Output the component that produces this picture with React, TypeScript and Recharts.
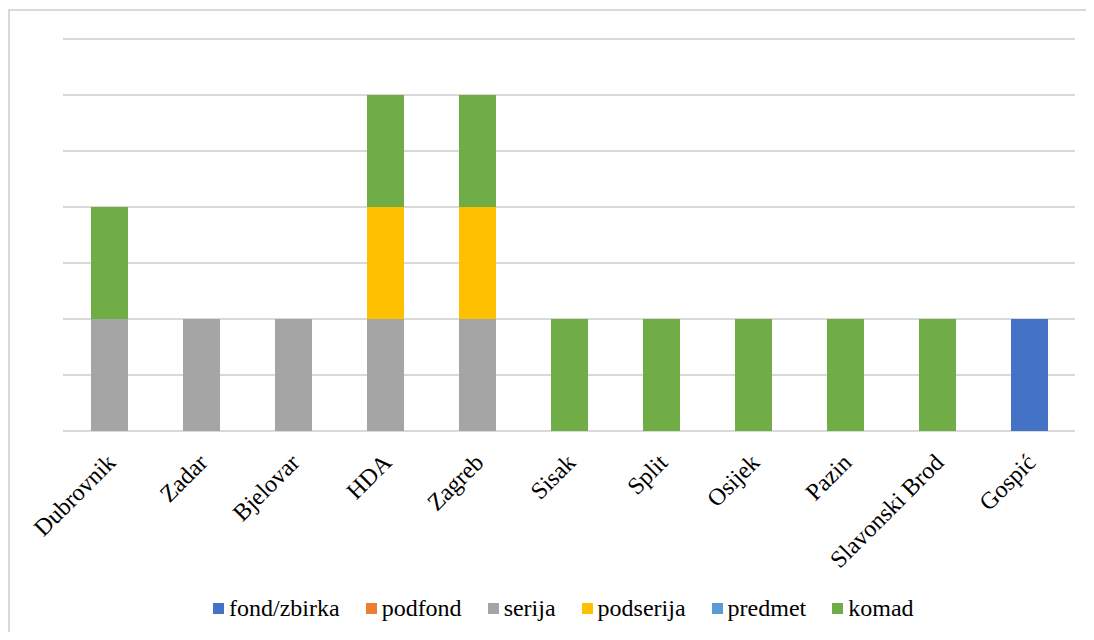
import { BarChart, Bar, XAxis, YAxis, CartesianGrid } from "recharts";

const categories = [
  "Dubrovnik",
  "Zadar",
  "Bjelovar",
  "HDA",
  "Zagreb",
  "Sisak",
  "Split",
  "Osijek",
  "Pazin",
  "Slavonski Brod",
  "Gospić",
];

const fondZbirka = [0, 0, 0, 0, 0, 0, 0, 0, 0, 0, 1];
const podfond = [0, 0, 0, 0, 0, 0, 0, 0, 0, 0, 0];
const serija = [1, 1, 1, 1, 1, 0, 0, 0, 0, 0, 0];
const podserija = [0, 0, 0, 1, 1, 0, 0, 0, 0, 0, 0];
const predmet = [0, 0, 0, 0, 0, 0, 0, 0, 0, 0, 0];
const komad = [1, 0, 0, 1, 1, 1, 1, 1, 1, 1, 0];

const yTicks = [0, 0.5, 1, 1.5, 2, 2.5, 3, 3.5];

const series = [
  { key: "fond/zbirka", values: fondZbirka, color: "#4472c4" },
  { key: "podfond", values: podfond, color: "#ed7d31" },
  { key: "serija", values: serija, color: "#a5a5a5" },
  { key: "podserija", values: podserija, color: "#ffc000" },
  { key: "predmet", values: predmet, color: "#5b9bd5" },
  { key: "komad", values: komad, color: "#70ad47" },
];

const data = categories.map((name, i) => {
  const row: Record<string, string | number> = { name };
  series.forEach((s) => {
    row[s.key] = s.values[i];
  });
  return row;
});

const FONT = "Liberation Serif";

function AngledTick(props: any) {
  const { x, y, payload } = props;
  const ax = x + 8;
  const ay = y + 25;
  return (
    <text
      x={ax}
      y={ay}
      transform={`rotate(-45, ${ax}, ${ay})`}
      textAnchor="end"
      fontFamily={FONT}
      fontSize={24}
      fill="#000"
    >
      {payload.value}
    </text>
  );
}

export default function App() {
  return (
    <div style={{ position: "relative", width: 1094, height: 640, margin: -8, overflow: "hidden", background: "#fff" }}>
      <div
        style={{
          position: "absolute",
          left: 8,
          top: 9,
          width: 1200,
          height: 700,
          borderTop: "2px solid #d9d9d9",
          borderLeft: "2px solid #d9d9d9",
        }}
      />
      <div style={{ position: "absolute", left: 8, top: 8 }}>
        <BarChart
          width={1086}
          height={632}
          data={data}
          margin={{ top: 31, right: 19, left: 55, bottom: 0 }}
        >
          <CartesianGrid vertical={false} stroke="#d9d9d9" strokeWidth={2} />
          <XAxis
            dataKey="name"
            axisLine={false}
            tickLine={false}
            interval={0}
            height={209}
            tick={<AngledTick />}
          />
          <YAxis hide domain={[0, 3.5]} ticks={yTicks} />
          {series.map((s) => (
            <Bar
              key={s.key}
              dataKey={s.key}
              stackId="a"
              fill={s.color}
              barSize={37}
              isAnimationActive={false}
            />
          ))}
        </BarChart>
      </div>
      <div
        style={{
          position: "absolute",
          left: 213,
          top: 594,
          display: "flex",
          alignItems: "center",
          fontFamily: FONT,
          fontSize: 24,
          color: "#000",
          whiteSpace: "nowrap",
        }}
      >
        {series.map((s) => (
          <div key={s.key} style={{ display: "flex", alignItems: "center", marginRight: 26 }}>
            <span style={{ display: "inline-block", width: 11, height: 11, background: s.color, marginRight: 5 }} />
            <span style={{ lineHeight: "28px", fontFamily: FONT }}>{s.key}</span>
          </div>
        ))}
      </div>
    </div>
  );
}
